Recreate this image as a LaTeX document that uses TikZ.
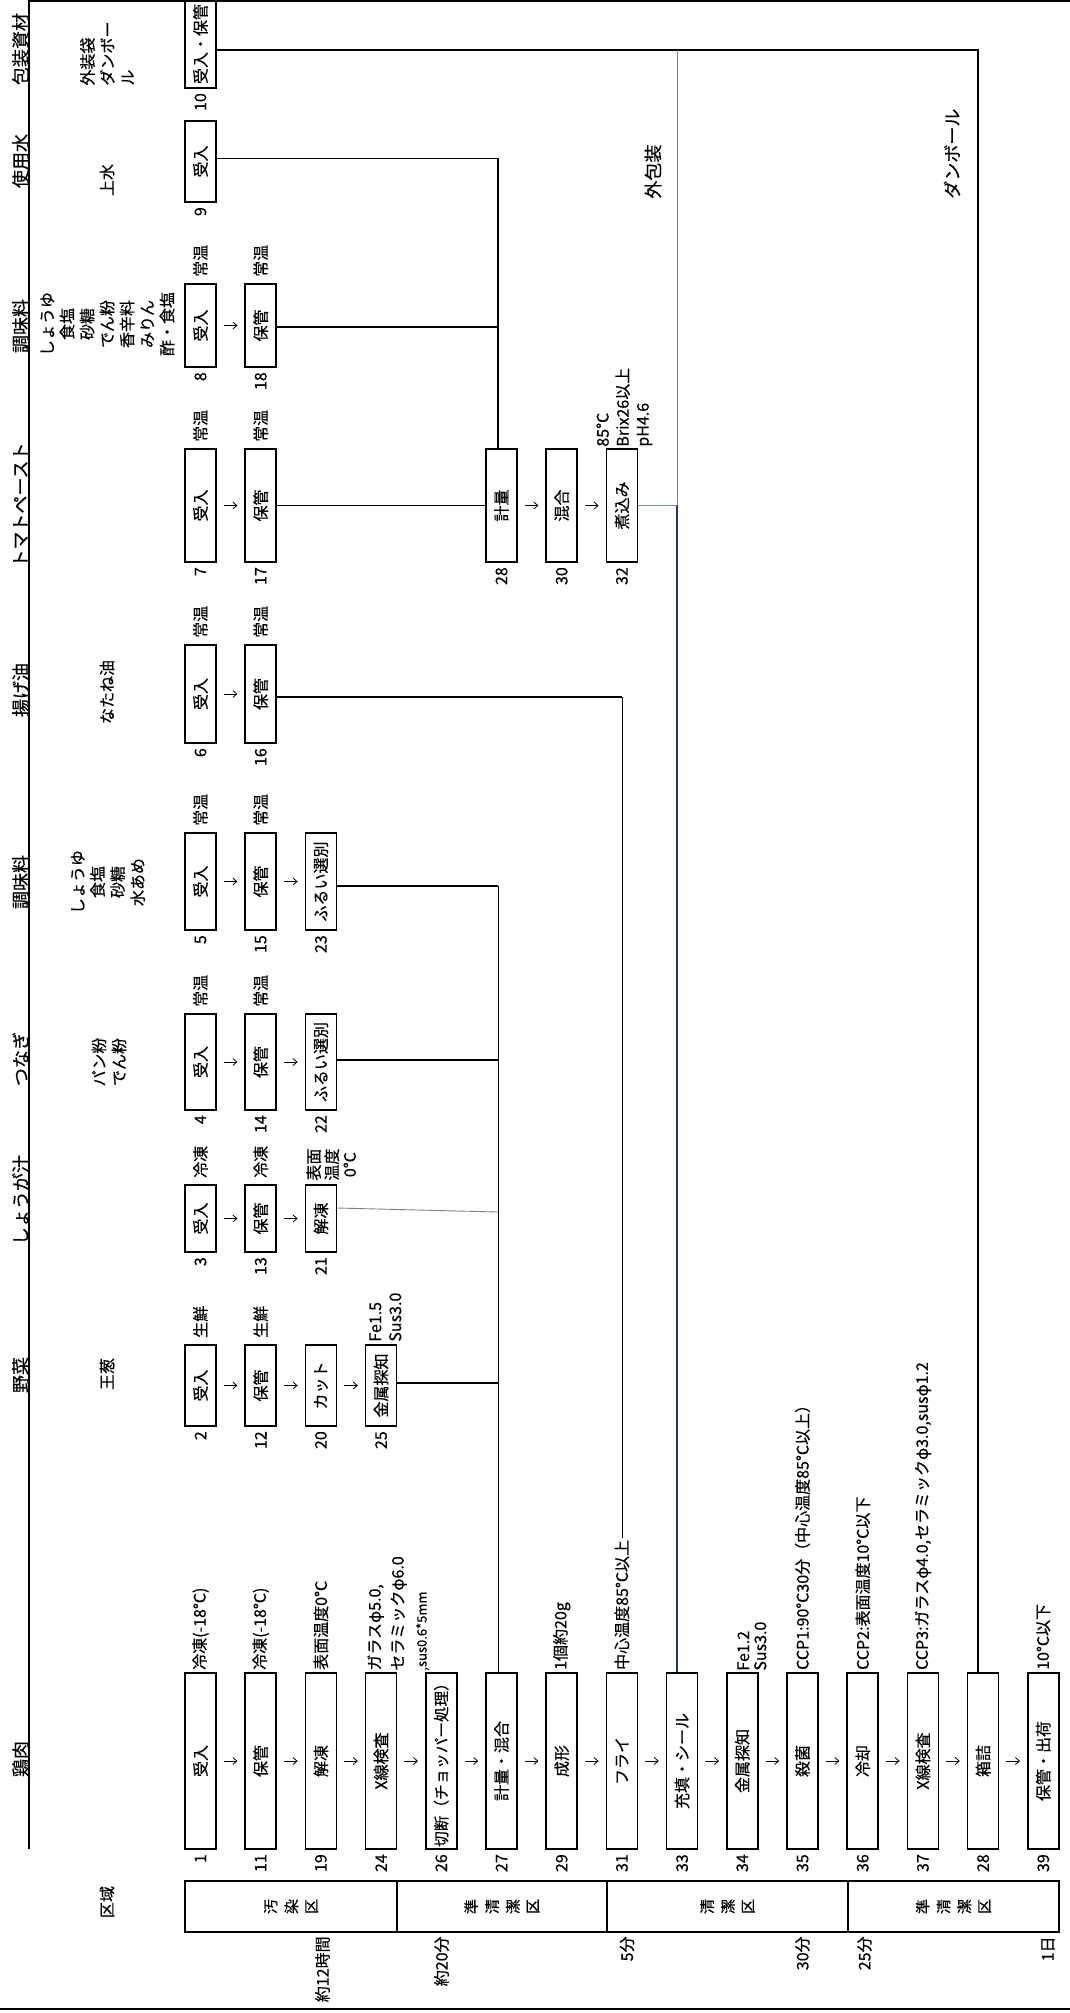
\documentclass[tikz,border=0pt]{standalone}
\usepackage{fontspec}
\setmainfont{Noto Sans CJK JP}[FakeBold=0.4]
\usetikzlibrary{arrows.meta}
\definecolor{navyl}{HTML}{1F3864}
\definecolor{bluel}{HTML}{6A90C8}
\definecolor{grayl}{HTML}{808080}
\newcommand\vch[1]{\rotatebox{90}{#1}}
\begin{document}
\begin{tikzpicture}[x=0.5pt,y=-0.5pt,
  fs/.style={font=\fontsize{8pt}{10pt}\selectfont},
  box/.style={draw, line width=0.8pt, rotate=90, minimum height=15.5pt, inner sep=0pt, fs},
  rA/.style={box, minimum width=44pt},
  rB/.style={box, minimum width=40.5pt},
  rC/.style={box, minimum width=41.5pt},
  rD/.style={box, minimum width=56.5pt},
  rE/.style={box, minimum width=49pt},
  rF/.style={box, minimum width=48.5pt},
  rG/.style={box, minimum width=48pt},
  rH/.style={box, minimum width=33.5pt},
  rI/.style={box, minimum width=40.5pt},
  rJ/.style={box, minimum width=88pt},
  num/.style={rotate=90, inner sep=2pt, fs, anchor=east},
  ann/.style={rotate=90, inner sep=3pt, fs, anchor=west},
  annj/.style={rotate=90, inner sep=1pt, fs, anchor=west},
  mann/.style={rotate=90, inner sep=0pt, align=left, anchor=north west},
  hdr/.style={rotate=90, inner sep=0pt, font=\fontsize{9pt}{11pt}\selectfont},
  ing/.style={rotate=90, inner sep=0pt, fs, align=center},
  tl/.style={rotate=90, inner sep=0pt, fs, anchor=east},
  zone/.style={draw, line width=0.7pt, inner sep=0pt, minimum height=25.5pt, font=\fontsize{7.5pt}{9pt}\selectfont},
  arr/.style={line width=0.4pt, -{Straight Barb[length=2pt,width=3.5pt]}, shorten <=3.5pt, shorten >=3.5pt},
  frame/.style={line width=0.85pt},
  lthick/.style={line width=0.7pt},
  lthin/.style={line width=0.45pt}]
\useasboundingbox (0,0) rectangle (1070,2013);

% frame lines
\draw[frame] (29,1) -- (1070,1);
\draw[frame] (29,0) -- (29,1849);
\draw[frame] (0,2009) -- (1070,2009);

% header labels
\node[hdr] (h1) at (20.5,49) {包装資材};
\node[hdr] (h2) at (20.5,161) {使用水};
\node[hdr] (h3) at (20.5,326) {調味料};
\node[hdr] (h4) at (20.5,505) {トマトペースト};
\node[hdr] (h5) at (20.5,690) {揚げ油};
\node[hdr] (h6) at (20.5,882) {調味料};
\node[hdr] (h7) at (20.5,1059) {つなぎ};
\node[hdr] (h8) at (20.5,1200) {しょうが汁};
\node[hdr] (h9) at (20.5,1375) {野菜};
\node[hdr] (h10) at (20.5,1759) {鶏肉};

% ingredient names
\node[ing, align=left, anchor=west] (i1) at (107,86) {外装袋\\ダンボー\\ル};
\node[ing] (i2) at (107,180) {上水};
\node[ing] (i3) at (107.5,324) {しょうゆ\\食塩\\砂糖\\でん粉\\香辛料\\みりん\\酢・食塩};
\node[ing] (i4) at (107,692) {なたね油};
\node[ing] (i5) at (108,882) {しょうゆ\\食塩\\砂糖\\水あめ};
\node[ing] (i6) at (109,1062) {パン粉\\でん粉};
\node[ing] (i7) at (107,1374) {王葱};
\node[ing] (i8) at (107,1902) {区域};

% boxes
\node[rA] (b10) at (200.5,44) {受入・保管};
\node[rB] (b9) at (200.5,161.5) {受入};
\node[rC] (b8) at (200.5,325.5) {受入};
\node[rC] (b18) at (260.7,325.5) {保管};
\node[rD] (b7) at (200.5,505.5) {受入};
\node[rD] (b17) at (260.7,505.5) {保管};
\node[rD] (b28a) at (501.5,505.5) {計量};
\node[rD] (b30) at (561.7,505.5) {混合};
\node[rD] (b32) at (621.9,505.5) {煮込み};
\node[rE] (b6) at (200.5,694) {受入};
\node[rE] (b16) at (260.7,694) {保管};
\node[rF] (b5) at (200.5,881.5) {受入};
\node[rF] (b15) at (260.7,881.5) {保管};
\node[rF] (b23) at (320.9,881.5) {ふるい選別};
\node[rG] (b4) at (200.5,1062) {受入};
\node[rG] (b14) at (260.7,1062) {保管};
\node[rG] (b22) at (320.9,1062) {ふるい選別};
\node[rH] (b3) at (200.5,1218.5) {受入};
\node[rH] (b13) at (260.7,1218.5) {保管};
\node[rH] (b21) at (320.9,1218.5) {解凍};
\node[rI] (b2) at (200.5,1385.5) {受入};
\node[rI] (b12) at (260.7,1385.5) {保管};
\node[rI] (b20) at (320.9,1385.5) {カット};
\node[rI] (b25) at (381.1,1385.5) {金属探知};
\node[rJ] (b1) at (200.5,1761) {受入};
\node[rJ] (b11) at (260.7,1761) {保管};
\node[rJ] (b19) at (320.9,1761) {解凍};
\node[rJ] (b24) at (381.1,1761) {X線検査};
\node[rJ, font=\fontsize{7.8pt}{10pt}\selectfont] (b26) at (441.3,1761) {切断（チョッパー処理）};
\node[rJ] (b27) at (501.5,1761) {計量・混合};
\node[rJ] (b29) at (561.7,1761) {成形};
\node[rJ] (b31) at (621.9,1761) {フライ};
\node[rJ] (b33) at (682.1,1761) {充填・シール};
\node[rJ] (b34) at (742.3,1761) {金属探知};
\node[rJ] (b35) at (802.5,1761) {殺菌};
\node[rJ] (b36) at (862.7,1761) {冷却};
\node[rJ] (b37) at (922.9,1761) {X線検査};
\node[rJ] (b28b) at (983.1,1761) {箱詰};
\node[rJ] (b39) at (1043.3,1761) {保管・出荷};

% numbers
\foreach \n/\t in {b10/10,b9/9,b8/8,b18/18,b7/7,b17/17,b28a/28,b30/30,b32/32,b6/6,b16/16,b5/5,b15/15,b23/23,b4/4,b14/14,b22/22,b3/3,b13/13,b21/21,b2/2,b12/12,b20/20,b25/25,b1/1,b11/11,b19/19,b24/24,b26/26,b27/27,b29/29,b31/31,b33/33,b34/34,b35/35,b36/36,b37/37,b28b/28,b39/39}
  \node[num] at (\n.west) {\t};

% arrows
\foreach \a/\b in {b8/b18,b7/b17,b28a/b30,b30/b32,b6/b16,b5/b15,b15/b23,b4/b14,b14/b22,b3/b13,b13/b21,b2/b12,b12/b20,b20/b25,b1/b11,b11/b19,b19/b24,b24/b26,b26/b27,b27/b29,b29/b31,b31/b33,b33/b34,b34/b35,b35/b36,b36/b37,b37/b28b,b28b/b39}
  \draw[arr] (\a.south) -- (\b.north);

% annotations above boxes
\foreach \n/\t in {b8/常温,b18/常温,b7/常温,b17/常温,b6/常温,b16/常温,b5/常温,b15/常温,b4/常温,b14/常温,b3/冷凍,b13/冷凍,b2/生鮮,b12/生鮮}
  \node[ann] at (\n.east) {\t};
\node[annj] (a1) at (b1.east) {冷凍(-18°C)};
\node[annj] (a11) at (b11.east) {冷凍(-18°C)};
\node[annj] (a19) at (b19.east) {表面温度0°C};
\node[annj] (a29) at (b29.east) {1個約20g};
\node[annj] (a31) at (b31.east) {中心温度85°C以上};
\node[annj] (a35) at (b35.east) {CCP1:90°C30分（中心温度85°C以上）};
\node[annj] (a36) at (b36.east) {CCP2:表面温度10°C以下};
\node[annj] (a37) at (b37.east) {CCP3:ガラスφ4.0,セラミックφ3.0,susφ1.2};
\node[annj] (a39) at (b39.east) {10°C以下};
\node[mann, font=\fontsize{8pt}{11.5pt}\selectfont] (a24) at (367,1671) {ガラスφ5.0,\\セラミックφ6.0\\{\fontsize{6.5pt}{11.5pt}\selectfont ,sus0.6*5mm}};
\node[mann, font=\fontsize{8pt}{8.5pt}\selectfont] (a34) at (737,1671) {Fe1.2\\Sus3.0};
\node[mann, font=\fontsize{8pt}{10pt}\selectfont] (a25) at (369,1342) {Fe1.5\\Sus3.0};
\node[mann, font=\fontsize{8pt}{10pt}\selectfont] (a32) at (596,447) {85°C\\Brix26以上\\pH4.6};
\node[mann, align=center, font=\fontsize{8pt}{9pt}\selectfont] (a21) at (306,1181) {表面\\温度\\0°C};

% junctions
\coordinate (jA) at (978,50);
\coordinate (jB) at (677,50);
\coordinate (jC) at (677,505);
\coordinate (jW) at (498,158);
\coordinate (jS) at (498,327);
\coordinate (jO) at (622,697);
\coordinate (jM1) at (498,886);
\coordinate (jM2) at (498,1060);
\coordinate (jM3) at (498,1212);
\coordinate (jM4) at (498,1383);

% connectors
\draw[lthick] (b10.south |- jA) -- (jA) -- (jA |- b28b.east);
\draw[lthin, draw=grayl] (jB) -- (jC);
\draw[line width=0.6pt, draw=navyl] (jC) -- (jC |- b33.east);
\draw[lthin, draw=bluel] (b32.south |- jC) -- (jC);
\draw[lthin] (b9.south |- jW) -- (jW);
\draw[lthick] (jW) -- (jW |- b28a.east);
\draw[lthick] (b18.south |- jS) -- (jS);
\draw[lthin] (b17.south) -- (b28a.north);
\draw[lthick] (b16.south |- jO) -- (jO);
\draw[lthin] (jO) -- (jO |- a31.east);
\draw[lthick] (b23.south |- jM1) -- (jM1);
\draw[lthin] (jM1) -- (jM1 |- b27.east);
\draw[lthick] (b22.south |- jM2) -- (jM2);
\draw[lthin, draw=grayl] (b21.south |- 0,1208) -- (jM3);
\draw[lthick] (b25.south |- jM4) -- (jM4);

% labels on lines
\node[hdr, anchor=west] (l1) at (653,199) {外包装};
\node[hdr, anchor=west] (l2) at (952,199) {ダンボール};

% zones
\node[zone, minimum width=106pt] (z1) at (291,1906.5) {\vch{汚}\hspace{3.5pt}\vch{染}\hspace{3.5pt}\vch{区}};
\node[zone, minimum width=105pt] (z2) at (502,1906.5) {\vch{準}\hspace{3.5pt}\vch{清}\hspace{3.5pt}\vch{潔}\hspace{3.5pt}\vch{区}};
\node[zone, minimum width=120.5pt] (z3) at (727.5,1906.5) {\vch{清}\hspace{3.5pt}\vch{潔}\hspace{3.5pt}\vch{区}};
\node[zone, minimum width=105.5pt] (z4) at (953.5,1906.5) {\vch{準}\hspace{3.5pt}\vch{清}\hspace{3.5pt}\vch{潔}\hspace{3.5pt}\vch{区}};

% time labels
\node[tl] (t1) at (322.5,1936) {約12時間};
\node[tl] (t2) at (441.5,1936) {約20分};
\node[tl] (t3) at (627,1936) {5分};
\node[tl] (t4) at (802.5,1936) {30分};
\node[tl] (t5) at (864.5,1936) {25分};
\node[tl] (t6) at (1048,1936) {1日};
\end{tikzpicture}
\end{document}
